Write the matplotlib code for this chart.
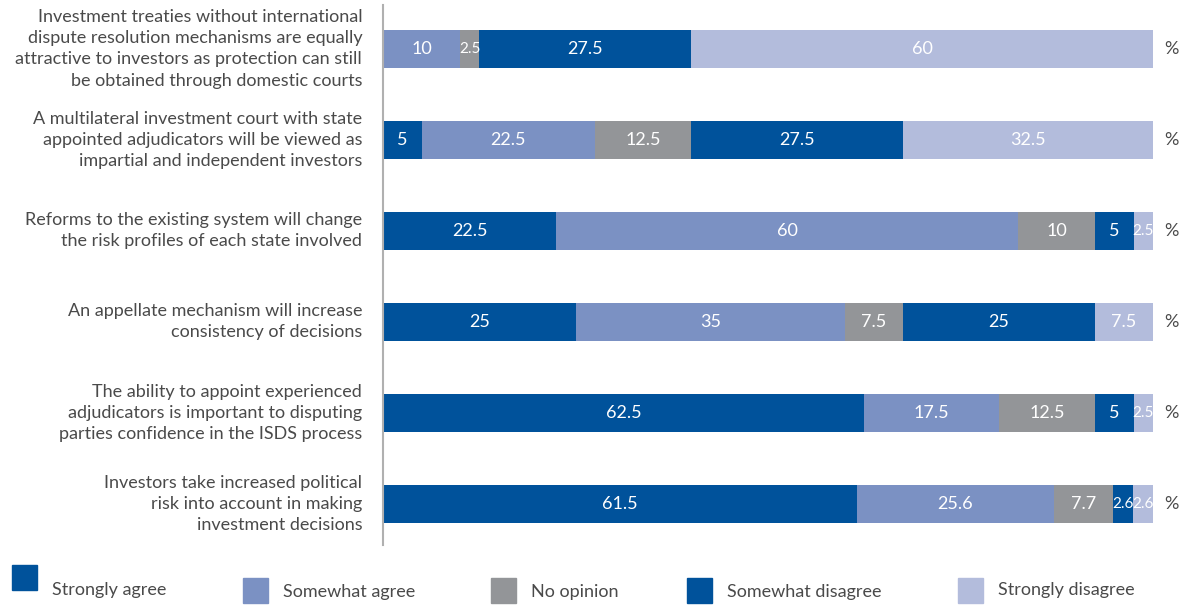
import matplotlib.pyplot as plt
from matplotlib.patches import Rectangle

plt.rcParams['font.family'] = ['Lato', 'DejaVu Sans']

statements = [
    "Investment treaties without international\ndispute resolution mechanisms are equally\nattractive to investors as protection can still\nbe obtained through domestic courts",
    "A multilateral investment court with state\nappointed adjudicators will be viewed as\nimpartial and independent investors",
    "Reforms to the existing system will change\nthe risk profiles of each state involved",
    "An appellate mechanism will increase\nconsistency of decisions",
    "The ability to appoint experienced\nadjudicators is important to disputing\nparties confidence in the ISDS process",
    "Investors take increased political\nrisk into account in making\ninvestment decisions",
]
responses = ["Strongly agree", "Somewhat agree", "No opinion", "Somewhat disagree", "Strongly disagree"]
strongly_agree = [0, 5, 22.5, 25, 62.5, 61.5]
somewhat_agree = [10, 22.5, 60, 35, 17.5, 25.6]
no_opinion = [2.5, 12.5, 10, 7.5, 12.5, 7.7]
somewhat_disagree = [27.5, 27.5, 5, 25, 5, 2.6]
strongly_disagree = [60, 32.5, 2.5, 7.5, 2.5, 2.6]

colors = ["#00529b", "#7b91c3", "#939598", "#00529b", "#b3bcdc"]
text_color = "#4a4a4a"

fig = plt.figure(figsize=(11.87, 6.05), dpi=100)
ax = fig.add_axes([383 / 1187, 1 - 545 / 605, 770 / 1187, 540 / 605])

series = [strongly_agree, somewhat_agree, no_opinion, somewhat_disagree, strongly_disagree]
rows = range(len(statements))
left = [0] * len(statements)
for vals, col in zip(series, colors):
    ax.barh(rows, vals, left=left, height=0.42, color=col, edgecolor="none")
    for i, v in enumerate(vals):
        if v > 0:
            size = 13 if v >= 3 else 11
            ax.text(left[i] + v / 2, i, f"{v:g}", ha="center", va="center",
                    color="white", fontsize=size)
    left = [a + b for a, b in zip(left, vals)]

for i, s in enumerate(statements):
    ax.text(-2.7, i, s, ha="right", va="center", fontsize=13, color=text_color,
            linespacing=1.4)
    ax.text(101.5, i, "%", ha="left", va="center", fontsize=13, color=text_color)

ax.set_xlim(0, 100)
ax.set_ylim(5.45, -0.48)
ax.set_xticks([])
ax.set_yticks([])
for side in ["top", "right", "bottom"]:
    ax.spines[side].set_visible(False)
ax.spines["left"].set_color("#b0b0b0")
ax.spines["left"].set_linewidth(1.5)

# staggered legend squares along the bottom
legend_pos = [(12, 565, 52, 590), (243, 578, 283, 592), (491, 578, 531, 592),
              (687, 578, 727, 592), (958, 578, 998, 590)]
for (sx, sy, tx, ty), lab, col in zip(legend_pos, responses, colors):
    fig.patches.append(Rectangle((sx / 1187, 1 - (sy + 25) / 605), 25 / 1187, 25 / 605,
                                 transform=fig.transFigure, color=col))
    fig.text(tx / 1187, 1 - ty / 605, lab, ha="left", va="center", fontsize=13,
             color=text_color)

fig.savefig("out.png", dpi=100)
